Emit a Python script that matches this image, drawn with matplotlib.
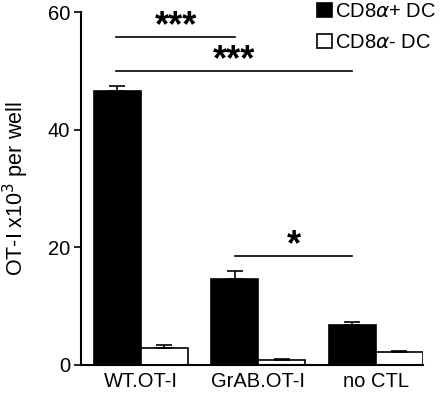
import numpy as np
import matplotlib
matplotlib.use("Agg")
import matplotlib.pyplot as plt

###### DATA ######

groups = ["WT.OT-I", "GrAB.OT-I", "no CTL"]
cd8_pos = [46.6, 14.7, 6.8]
cd8_pos_err = [0.8, 1.3, 0.5]
cd8_neg = [2.9, 0.9, 2.2]
cd8_neg_err = [0.5, 0.2, 0.25]

# significance bars: (x start, x end, y, label)
sig_bars = [
    (-0.21, 0.8, 55.8, "***"),
    (-0.21, 1.8, 50.0, "***"),
    (0.80, 1.80, 18.6, "*"),
]

###### PLOT ######

plt.rcParams['font.family'] = ['Liberation Sans', 'DejaVu Sans']

fig = plt.figure(figsize=(4.4, 3.95), dpi=100)
ax = fig.add_axes([81 / 440, 1 - 365 / 395, 342 / 440, 353 / 395])

x = np.arange(len(groups))
w = 0.4
err_kw = dict(ecolor="black", elinewidth=1.2, capsize=5.5, capthick=1.2)

ax.bar(x - w / 2, cd8_pos, w, color="black", edgecolor="black", linewidth=1.2,
       yerr=[np.zeros(3), cd8_pos_err], error_kw=err_kw, label="CD8$\\alpha$+ DC")
ax.bar(x + w / 2, cd8_neg, w, color="white", edgecolor="black", linewidth=1.2,
       yerr=[np.zeros(3), cd8_neg_err], error_kw=err_kw, label="CD8$\\alpha$- DC")

for x0, x1, y, lab in sig_bars:
    ax.plot([x0, x1], [y, y], color="black", lw=1.2, clip_on=False)
    ax.text((x0 + x1) / 2, y - 1.3, lab, ha="center", va="bottom",
            fontsize=26, fontweight="bold")

ax.set_xlim(-0.51, 2.40)
ax.set_ylim(0, 60)
ax.set_yticks([0, 20, 40, 60])
ax.set_xticks(x)
ax.set_xticklabels(groups, fontsize=14.5)
ax.tick_params(axis="y", labelsize=14.5, length=5, width=1.2, pad=3)
ax.tick_params(axis="x", length=0, pad=5)
ax.set_ylabel("OT-I x10$^3$ per well", fontsize=15.5, labelpad=12)

for s in ["top", "right"]:
    ax.spines[s].set_visible(False)
for s in ["left", "bottom"]:
    ax.spines[s].set_linewidth(1.5)

leg = ax.legend(loc="upper left", bbox_to_anchor=(0.72, 0.995),
                bbox_transform=fig.transFigure, frameon=False,
                fontsize=14.5, handlelength=0.75, handleheight=0.65,
                handletextpad=0.15, labelspacing=0.6, borderpad=0,
                borderaxespad=0)

fig.savefig("out.png", dpi=100)
